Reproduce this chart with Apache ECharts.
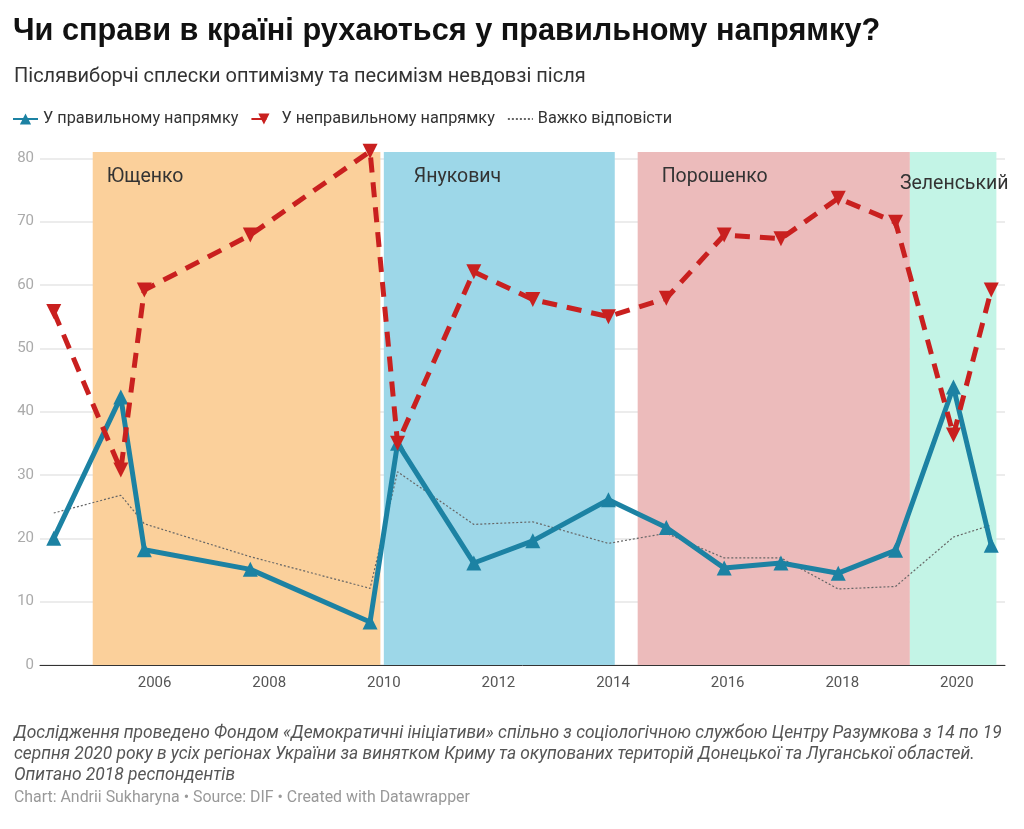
<!DOCTYPE html>
<html>
<head>
<meta charset="utf-8">
<script src="https://cdn.jsdelivr.net/npm/echarts@6/dist/echarts.min.js"></script>
<style>
  html, body { margin: 0; padding: 0; background: #fff; }
  #chart { width: 1024px; height: 829px; }
</style>
</head>
<body>
<div id="chart"></div>
<script>
// ── дані опитувань ──────────────────────────
const years = [2004.24, 2005.41, 2005.82, 2007.67, 2009.76, 2010.24, 2011.57, 2012.6, 2013.92,
  2014.93, 2015.94, 2016.93, 2017.93, 2018.93, 2019.94, 2020.6];
const rightDir = [20, 42.3, 18.2, 15.1, 6.8, 35, 16.1, 19.6, 26.1, 21.7, 15.3, 16.1, 14.5, 18.1, 43.9, 18.9];
const wrongDir = [55.8, 30.8, 59.2, 67.9, 81.1, 35, 62.1, 57.7, 55, 57.9, 67.9, 67.3, 73.7, 69.9, 36.3, 59.2];
const hardToSay = [24, 26.8, 22.3, 17.1, 12.1, 30.5, 22.2, 22.6, 19.2, 20.8, 16.9, 16.9, 12, 12.4, 20.2, 22.1];

// ── каденції президентів ──────────────────────
const terms = ["Ющенко", "Янукович", "Порошенко", "Зеленський"];
const termStart = [2004.92, 2010.0, 2014.43, 2019.18];
const termEnd = [2009.94, 2014.03, 2019.18, 2020.69];
const termTop = 81;

const termColors = ["#fbd09b", "#9dd7e8", "#ecbbbb", "#c3f4e6"];
const termLabelPos = [[14, 15], [30, 15], [24, 15], [-10, 22]];

const seriesNames = ["У правильному напрямку", "У неправильному напрямку", "Важко відповісти"];

const FONT = "Roboto, 'Noto Sans', sans-serif";
const TITLE_FONT = "'Liberation Sans', Arial, sans-serif";
const chart = echarts.init(document.getElementById("chart"));

const pairs = (vals) => years.map((x, i) => [x, vals[i]]);

chart.setOption({
  backgroundColor: "#fff",
  animation: false,
  textStyle: { fontFamily: FONT },
  title: [
    {
      text: "Чи справи в країні рухаються у правильному напрямку?",
      left: 13, top: 16, padding: 0,
      textStyle: { fontFamily: TITLE_FONT, fontSize: 30.7, fontWeight: "bold", color: "#111" }
    },
    {
      text: "Післявиборчі сплески оптимізму та песимізм невдовзі після",
      left: 14, top: 67, padding: 0,
      textStyle: { fontFamily: FONT, fontSize: 20, fontWeight: "normal", color: "#333" }
    },
    {
      text: "Дослідження проведено Фондом «Демократичні ініціативи» спільно з соціологічною службою Центру Разумкова з 14 по 19\nсерпня 2020 року в усіх регіонах України за винятком Криму та окупованих територій Донецької та Луганської областей.\nОпитано 2018 респондентів",
      left: 14, top: 723, padding: 0,
      textStyle: { fontFamily: FONT, fontSize: 17.4, fontStyle: "italic", fontWeight: "normal", color: "#555", lineHeight: 21 }
    },
    {
      text: "Chart: Andrii Sukharyna • Source: DIF • Created with Datawrapper",
      left: 14, top: 790, padding: 0,
      textStyle: { fontFamily: FONT, fontSize: 15.9, fontWeight: "normal", color: "#999" }
    }
  ],
  legend: {
    data: [
      { name: seriesNames[0] },
      { name: seriesNames[1] },
      { name: seriesNames[2], itemStyle: { opacity: 0 } }
    ],
    left: 12, top: 111, padding: 0,
    itemWidth: 25, itemHeight: 14, itemGap: 12,
    textStyle: { fontFamily: FONT, fontSize: 16.3, color: "#333" }
  },
  grid: { left: 40, right: 19, top: 152, bottom: 164 },
  xAxis: {
    type: "value",
    min: 2004, max: 2020.84, interval: 2,
    axisLine: { lineStyle: { color: "#333", width: 1 } },
    axisTick: { show: false },
    axisLabel: {
      color: "#555", fontSize: 15, margin: 11, fontFamily: FONT,
      showMinLabel: false, showMaxLabel: false,
      formatter: (v) => String(v)
    },
    splitLine: { show: true, showMinLine: false, showMaxLine: false, lineStyle: { color: "rgba(0,0,0,0.07)", width: 1 } }
  },
  yAxis: {
    type: "value",
    min: 0, max: 81, interval: 10,
    axisLine: { show: false },
    axisTick: { show: false },
    axisLabel: { color: "#aaa", fontSize: 15, margin: 6, fontFamily: FONT, showMaxLabel: false },
    splitLine: { showMaxLine: false, lineStyle: { color: "#e6e6e6", width: 1.5 } }
  },
  series: [
    {
      // фонові смуги каденцій
      type: "line",
      name: "terms",
      data: [],
      z: -1,
      silent: true,
      markArea: {
        silent: true,
        data: terms.map((t, i) => [
          {
            name: t,
            xAxis: termStart[i], yAxis: 0,
            itemStyle: { color: termColors[i] },
            label: { position: termLabelPos[i] }
          },
          { xAxis: termEnd[i], yAxis: termTop }
        ]),
        label: { show: true, color: "#333", fontSize: 19.5, fontFamily: FONT }
      }
    },
    {
      name: seriesNames[2],
      type: "line",
      data: pairs(hardToSay),
      showSymbol: false,
      symbol: "none",
      clip: false,
      z: 3,
      lineStyle: { color: "#666", width: 1.2, type: [2, 2] },
      itemStyle: { color: "#666" }
    },
    {
      name: seriesNames[0],
      type: "line",
      data: pairs(rightDir),
      symbol: "triangle",
      symbolSize: 15,
      clip: false,
      z: 4,
      lineStyle: { color: "#1c82a3", width: 5 },
      itemStyle: { color: "#1c82a3" }
    },
    {
      name: seriesNames[1],
      type: "line",
      data: pairs(wrongDir),
      symbol: "triangle",
      symbolRotate: 180,
      symbolSize: 15,
      clip: false,
      z: 5,
      lineStyle: { color: "#c9201f", width: 5, type: [15, 10] },
      itemStyle: { color: "#c9201f" }
    }
  ]
});
</script>
</body>
</html>
